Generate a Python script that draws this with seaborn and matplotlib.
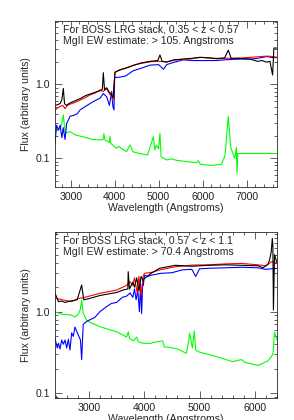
import numpy as np
import pandas as pd
import seaborn as sns
import matplotlib
matplotlib.use("Agg")
import matplotlib.pyplot as plt
from matplotlib.ticker import MultipleLocator, FixedLocator, FixedFormatter, LogLocator, NullFormatter

# ---- panel 1 : 0.35 < z < 0.57 ----
wl_red1 = [2644, 2700, 2758, 2820, 2871, 2930, 2985, 3100, 3212, 3330, 3439, 3550, 3667, 3740, 3818, 3880, 3932, 3960,
           4008, 4121, 4250, 4424, 4600, 4803, 5000, 5182, 5350, 5561, 5750, 5939, 6100, 6318, 6500, 6697, 6900, 7076,
           7250, 7455, 7600, 7697]
fx_red1 = [0.45, 0.48, 0.50, 0.52, 0.47, 0.52, 0.54, 0.57, 0.61, 0.66, 0.72, 0.76, 0.84, 0.80, 0.88, 0.75, 0.68, 0.60,
           1.48, 1.56, 1.65, 1.82, 1.92, 2.02, 2.05, 2.02, 2.12, 2.18, 2.22, 2.32, 2.28, 2.25, 2.26, 2.25, 2.28, 2.32,
           2.36, 2.41, 2.38, 2.32]

wl_blk1 = [2644, 2700, 2760, 2800, 2833, 2860, 2900, 2985, 3100, 3212, 3330, 3439, 3550, 3667, 3720, 3742, 3770, 3818,
           3880, 3932, 3965, 4008, 4121, 4250, 4424, 4600, 4803, 4980, 5030, 5080, 5182, 5350, 5561, 5750, 5939, 6100,
           6318, 6500, 6583, 6650, 6800, 7076, 7250, 7350, 7455, 7530, 7591, 7620, 7660, 7697]
fx_blk1 = [0.52, 0.53, 0.55, 0.62, 0.88, 0.55, 0.52, 0.56, 0.60, 0.64, 0.70, 0.74, 0.78, 0.82, 0.86, 1.44, 0.84, 0.90,
           0.78, 0.72, 0.66, 1.45, 1.58, 1.66, 1.80, 1.95, 2.05, 2.10, 2.50, 2.05, 2.00, 2.15, 2.20, 2.25, 2.32, 2.30,
           2.22, 2.28, 2.90, 2.25, 2.25, 2.20, 2.05, 2.10, 2.00, 2.05, 1.34, 3.10, 3.10, 3.10]

wl_blu1 = [2644, 2680, 2720, 2760, 2800, 2830, 2871, 2910, 2950, 2985, 3060, 3150, 3212, 3330, 3439, 3550, 3667, 3742,
           3818, 3880, 3932, 3960, 3985, 4000, 4121, 4250, 4424, 4600, 4803, 5000, 5110, 5182, 5300, 5561, 5750, 5939,
           6100, 6318, 6500, 6697, 6900, 7076, 7250, 7455, 7600, 7697]
fx_blu1 = [0.16, 0.28, 0.24, 0.28, 0.19, 0.26, 0.18, 0.30, 0.33, 0.37, 0.38, 0.40, 0.45, 0.50, 0.55, 0.60, 0.65, 0.75,
           0.68, 0.52, 0.80, 0.50, 0.45, 1.24, 1.25, 1.30, 1.53, 1.65, 1.82, 1.85, 1.60, 1.85, 1.95, 2.15, 2.10, 2.10,
           2.10, 2.10, 2.15, 2.18, 2.20, 2.20, 2.25, 2.38, 2.30, 2.30]

wl_grn1 = [2644, 2700, 2758, 2800, 2833, 2871, 2910, 2985, 3100, 3212, 3350, 3500, 3667, 3740, 3755, 3780, 3880, 3895,
           3910, 4030, 4100, 4150, 4270, 4348, 4420, 4600, 4750, 4879, 4915, 4950, 5000, 5030, 5055, 5182, 5300, 5400,
           5650, 5870, 5900, 5950, 6200, 6430, 6510, 6583, 6640, 6730, 6768, 6782, 6800, 6900, 7200, 7500, 7697]
fx_grn1 = [0.23, 0.24, 0.25, 0.30, 0.385, 0.23, 0.22, 0.23, 0.207, 0.20, 0.19, 0.18, 0.177, 0.18, 0.215, 0.176, 0.165,
           0.20, 0.16, 0.137, 0.145, 0.136, 0.123, 0.151, 0.122, 0.115, 0.111, 0.196, 0.13, 0.15, 0.135, 0.218, 0.105,
           0.095, 0.098, 0.094, 0.090, 0.087, 0.093, 0.083, 0.080, 0.083, 0.11, 0.365, 0.14, 0.10, 0.14, 0.063, 0.116,
           0.116, 0.116, 0.116, 0.116]

# ---- panel 2 : 0.57 < z < 1.1 ----
wl_red2 = [2378, 2470, 2560, 2680, 2800, 2920, 3193, 3495, 3676, 3736, 3790, 3820, 3840, 3870, 3900, 3940, 3980, 4000,
           4150, 4270, 4560, 4860, 5160, 5470, 5760, 6060, 6200, 6310, 6404]
fx_red2 = [1.46, 1.42, 1.38, 1.33, 1.45, 1.50, 1.68, 1.84, 2.10, 2.33, 2.10, 2.60, 2.20, 1.70, 2.70, 1.60, 2.75, 2.95,
           3.05, 3.24, 3.55, 3.72, 3.75, 3.85, 3.90, 3.75, 3.65, 4.10, 3.90]

wl_blk2 = [2378, 2420, 2440, 2500, 2560, 2680, 2780, 2862, 2900, 3000, 3193, 3495, 3620, 3700, 3706, 3730, 3790, 3820,
           3860, 3900, 3940, 3980, 4000, 4121, 4275, 4560, 4860, 5160, 5470, 5760, 6060, 6150, 6240, 6270, 6300, 6320,
           6330, 6340, 6360, 6404]
fx_blk2 = [1.68, 1.45, 1.33, 1.35, 1.30, 1.36, 1.40, 2.12, 1.40, 1.45, 1.58, 1.72, 1.85, 1.90, 3.09, 1.90, 2.30, 2.00,
           2.60, 1.80, 2.70, 2.40, 2.55, 2.95, 3.40, 3.70, 3.60, 3.70, 3.75, 3.70, 3.65, 3.45, 3.80, 4.30, 5.40, 7.90,
           6.50, 1.05, 5.00, 4.00]

wl_blu2 = [2378, 2420, 2440, 2470, 2500, 2530, 2560, 2590, 2620, 2650, 2680, 2710, 2740, 2770, 2800, 2840, 2862, 2890,
           2950, 3000, 3100, 3193, 3310, 3400, 3495, 3600, 3676, 3740, 3790, 3820, 3850, 3880, 3910, 3930, 3950, 3970,
           3980, 4000, 4060, 4121, 4300, 4500, 4680, 4860, 4930, 5000, 5160, 5470, 5760, 6060, 6200, 6300, 6404]
fx_blu2 = [0.47, 0.36, 0.41, 0.35, 0.45, 0.40, 0.45, 0.36, 0.46, 0.34, 0.55, 0.50, 0.65, 0.58, 0.52, 0.45, 0.26, 0.70,
           0.76, 0.79, 0.85, 1.00, 1.15, 1.26, 1.30, 1.50, 1.55, 1.70, 1.50, 1.90, 1.40, 1.84, 1.00, 2.20, 0.95, 2.40,
           2.10, 2.80, 2.70, 2.80, 2.95, 3.00, 3.25, 3.30, 2.70, 3.35, 3.40, 3.45, 3.50, 3.45, 3.30, 3.35, 3.39]

wl_grn2 = [2378, 2500, 2680, 2740, 2800, 2835, 2862, 2890, 2950, 3000, 3193, 3495, 3676, 3706, 3730, 3800, 3860, 3880,
           3920, 4000, 4121, 4150, 4330, 4360, 4420, 4600, 4760, 4800, 4820, 4870, 4905, 4930, 5000, 5250, 5600, 5760,
           5790, 5820, 6060, 6240, 6330, 6360, 6404]
fx_grn2 = [1.00, 0.93, 0.91, 0.86, 0.93, 1.05, 1.39, 0.96, 0.79, 0.75, 0.655, 0.57, 0.49, 0.57, 0.47, 0.44, 0.49, 0.44,
           0.42, 0.41, 0.41, 0.42, 0.44, 0.37, 0.37, 0.35, 0.31, 0.42, 0.55, 0.36, 0.58, 0.34, 0.32, 0.29, 0.245, 0.26,
           0.25, 0.24, 0.22, 0.25, 0.30, 0.56, 0.45]

panels = [
    dict(red=(wl_red1, fx_red1), black=(wl_blk1, fx_blk1), blue=(wl_blu1, fx_blu1), lime=(wl_grn1, fx_grn1),
         xlim=(2643, 7690), ylim=(0.041, 7.2), xticks=[3000, 4000, 5000, 6000, 7000],
         text=["For BOSS LRG stack, 0.35 < z < 0.57", "MgII EW estimate: > 105. Angstroms"]),
    dict(red=(wl_red2, fx_red2), black=(wl_blk2, fx_blk2), blue=(wl_blu2, fx_blu2), lime=(wl_grn2, fx_grn2),
         xlim=(2378, 6404), ylim=(0.0875, 9.5), xticks=[3000, 4000, 5000, 6000],
         text=["For BOSS LRG stack, 0.57 < z < 1.1", "MgII EW estimate: > 70.4 Angstroms"]),
]

sns.set_style("ticks")
plt.rcParams['font.family'] = ['Liberation Sans', 'DejaVu Sans']

fig = plt.figure(figsize=(2.94, 4.2), dpi=100)
boxes = [[0.187, 0.555, 0.755, 0.395], [0.187, 0.052, 0.755, 0.396]]
fs = 7.6

for box, p in zip(boxes, panels):
    ax = fig.add_axes(box)
    for key, col in [("lime", "#00ff00"), ("blue", "#0000ff"), ("red", "#ff0000"), ("black", "#000000")]:
        wl, fx = p[key]
        df = pd.DataFrame({"wl": wl, "flux": fx})
        sns.lineplot(data=df, x="wl", y="flux", ax=ax, color=col, lw=0.8, estimator=None, sort=False)
    ax.set_yscale("log")
    ax.set_xlim(*p["xlim"])
    ax.set_ylim(*p["ylim"])
    ax.xaxis.set_major_locator(FixedLocator(p["xticks"]))
    ax.xaxis.set_minor_locator(MultipleLocator(200))
    ax.yaxis.set_major_locator(FixedLocator([0.1, 1.0]))
    ax.yaxis.set_major_formatter(FixedFormatter(["0.1", "1.0"]))
    ax.yaxis.set_minor_locator(LogLocator(base=10, subs=np.arange(2, 10)))
    ax.yaxis.set_minor_formatter(NullFormatter())
    ax.tick_params(which="both", direction="in", top=True, right=True, labelsize=fs, width=0.5, colors="#222222")
    ax.tick_params(which="major", length=5)
    ax.tick_params(which="minor", length=2.5)
    for s in ax.spines.values():
        s.set_linewidth(0.6)
    ax.set_xlabel("Wavelength (Angstroms)", fontsize=fs, labelpad=1)
    ax.set_ylabel("Flux (arbitrary units)", fontsize=fs, labelpad=3)
    ax.text(0.035, 0.98, p["text"][0], transform=ax.transAxes, fontsize=fs, va="top")
    ax.text(0.035, 0.91, p["text"][1], transform=ax.transAxes, fontsize=fs, va="top")

fig.savefig("out.png", dpi=100, facecolor="white")
